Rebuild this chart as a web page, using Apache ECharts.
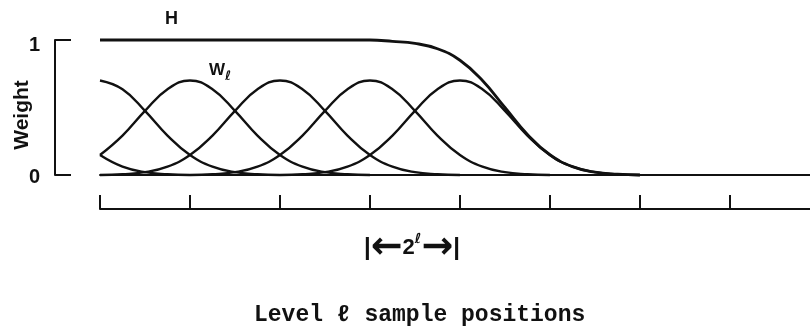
<!DOCTYPE html>
<html lang="en">
<head>
    <meta charset="UTF-8">
    <title>Weight</title>
    <script src="https://cdn.jsdelivr.net/npm/echarts/dist/echarts.min.js"></script>
    <style>
        html, body { margin: 0; padding: 0; background: #fff; }
        #chart { width: 810px; height: 333px; }
    </style>
</head>
<body>
<div id="chart"></div>
<script type="text/javascript">
    // sample positions (level l units), one step = quarter of a sample spacing
    var xGrid = [0, 0.25, 0.5, 0.75, 1, 1.25, 1.5, 1.75, 2, 2.25, 2.5, 2.75, 3,
        3.25, 3.5, 3.75, 4, 4.25, 4.5, 4.75, 5, 5.25, 5.5, 5.75, 6];

    // W_l curves (null = not drawn)
    var wPrev = [0.148, 0.062, 0.021, 0.006, 0, null, null, null, null, null, null, null, null,
        null, null, null, null, null, null, null, null, null, null, null, null];
    var w0 = [0.70, 0.635, 0.475, 0.292, 0.148, 0.062, 0.021, 0.006, 0, null, null, null, null,
        null, null, null, null, null, null, null, null, null, null, null, null];
    var w1 = [0.148, 0.292, 0.475, 0.635, 0.70, 0.635, 0.475, 0.292, 0.148, 0.062, 0.021, 0.006, 0,
        null, null, null, null, null, null, null, null, null, null, null, null];
    var w2 = [0, 0.006, 0.021, 0.062, 0.148, 0.292, 0.475, 0.635, 0.70, 0.635, 0.475, 0.292, 0.148,
        0.062, 0.021, 0.006, 0, null, null, null, null, null, null, null, null];
    var w3 = [null, null, null, null, 0, 0.006, 0.021, 0.062, 0.148, 0.292, 0.475, 0.635, 0.70,
        0.635, 0.475, 0.292, 0.148, 0.062, 0.021, 0.006, 0, null, null, null, null];
    var w4 = [null, null, null, null, null, null, null, null, 0, 0.006, 0.021, 0.062, 0.148,
        0.292, 0.475, 0.635, 0.70, 0.635, 0.475, 0.292, 0.148, 0.062, 0.021, 0.006, 0];

    // H, flat at 1 then falling off with the last W
    var hVals = [1, 1, 1, 1, 1, 1, 1, 1, 1, 1, 1, 1, 1,
        0.99, 0.975, 0.935, 0.85, 0.70, 0.50, 0.30, 0.15, 0.062, 0.021, 0.006, 0];

    var xMax = 7.89;
    var sampleTicks = [0, 1, 2, 3, 4, 5, 6, 7];
    var weightTicks = [0, 1];

    function pairs(vals) {
        var out = [];
        for (var i = 0; i < xGrid.length; i++) {
            if (vals[i] !== null) out.push([xGrid[i], vals[i]]);
        }
        return out;
    }

    var ink = '#111';
    var sans = 'Liberation Sans, DejaVu Sans, sans-serif';

    function curve(name, vals, width) {
        return {
            name: name,
            type: 'line',
            xAxisIndex: 0,
            yAxisIndex: 0,
            data: pairs(vals),
            smooth: 0.45,
            symbol: 'none',
            clip: false,
            lineStyle: { color: ink, width: width },
            silent: true
        };
    }

    var chart = echarts.init(document.getElementById('chart'));
    chart.setOption({
        animation: false,
        backgroundColor: '#fff',
        grid: [
            { left: 100, right: 0, top: 40, height: 135 },
            { left: 100, right: 0, top: 195, height: 14 }
        ],
        xAxis: [{
            gridIndex: 0,
            type: 'value',
            min: 0,
            max: xMax,
            axisLine: { show: true, onZero: false, lineStyle: { color: ink, width: 2 } },
            axisTick: { show: false },
            axisLabel: { show: false },
            splitLine: { show: false }
        }, {
            gridIndex: 1,
            type: 'value',
            min: 0,
            max: xMax,
            interval: 1,
            axisLine: { show: true, onZero: false, lineStyle: { color: ink, width: 2 } },
            axisTick: {
                show: true, inside: true, length: 14,
                lineStyle: { color: ink, width: 2 },
                customValues: sampleTicks
            },
            axisLabel: { show: false },
            splitLine: { show: false }
        }],
        yAxis: [{
            gridIndex: 0,
            type: 'value',
            min: 0,
            max: 1,
            interval: 1,
            offset: 45,
            axisLine: { show: true, onZero: false, lineStyle: { color: ink, width: 2 } },
            axisTick: { show: true, inside: true, length: 16, lineStyle: { color: ink, width: 2 } },
            axisLabel: {
                show: true, margin: 15, color: ink,
                fontFamily: sans, fontWeight: 'bold', fontSize: 20,
                customValues: weightTicks,
                formatter: function (v) { return v === 1 ? '{one|1}' : '{zero|0}'; },
                rich: {
                    one: { fontFamily: sans, fontWeight: 'bold', fontSize: 20, color: ink, padding: [10, 0, 0, 0] },
                    zero: { fontFamily: sans, fontWeight: 'bold', fontSize: 20, color: ink, padding: [4, 0, 0, 0] }
                }
            },
            splitLine: { show: false }
        }, {
            gridIndex: 1,
            type: 'value',
            min: 0,
            max: 1,
            show: false
        }],
        graphic: [
            {
                type: 'text', x: 22, y: 115, rotation: Math.PI / 2,
                style: {
                    text: 'Weight', fill: ink, font: 'bold 21px ' + sans,
                    align: 'center', verticalAlign: 'middle'
                }
            },
            {
                type: 'text', x: 165, y: 10,
                style: { text: 'H', fill: ink, font: 'bold 18px ' + sans }
            },
            {
                type: 'text', x: 209, y: 58,
                style: {
                    text: '{w|W}{l|ℓ}',
                    rich: {
                        w: { fill: ink, font: 'bold 17px ' + sans },
                        l: { fill: ink, font: 'bold 13px DejaVu Sans', padding: [12, 0, 0, 0] }
                    }
                }
            },
            {
                type: 'text', x: 364, y: 248,
                style: {
                    text: '{p||}{a|\u2190}{b|2}{c|ℓ}{a|\u2192}{p||}',
                    verticalAlign: 'middle',
                    rich: {
                        p: { fill: ink, font: 'bold 24px ' + sans, verticalAlign: 'middle' },
                        a: { fill: ink, font: 'bold 38px DejaVu Sans', verticalAlign: 'middle' },
                        b: { fill: ink, font: 'bold 22px ' + sans, verticalAlign: 'middle' },
                        c: { fill: ink, font: 'bold 14px DejaVu Sans', verticalAlign: 'middle', padding: [0, 0, 17, 0] }
                    }
                }
            },
            {
                type: 'text', x: 254, y: 304,
                style: { text: 'Level ℓ sample positions', fill: ink, font: 'bold 23px Liberation Mono, monospace' }
            }
        ],
        series: [
            curve('Wprev', wPrev, 2.4),
            curve('W0', w0, 2.4),
            curve('W1', w1, 2.4),
            curve('W2', w2, 2.4),
            curve('W3', w3, 2.4),
            curve('W4', w4, 2.4),
            curve('H', hVals, 2.8)
        ]
    });
</script>
</body>
</html>
